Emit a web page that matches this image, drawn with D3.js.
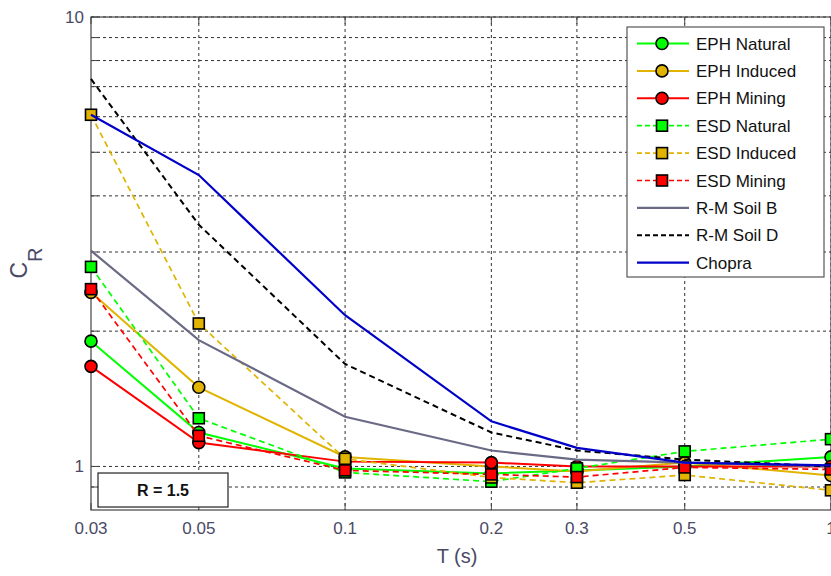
<!DOCTYPE html>
<html>
<head>
<meta charset="utf-8">
<script src="https://cdn.jsdelivr.net/npm/d3@7"></script>
<style>
  body { margin: 0; background: #fff; }
  text { font-family: "Liberation Sans", Arial, sans-serif; }
</style>
</head>
<body>
<div id="chart"></div>
<script>
// periods (s)
const periods = [0.03, 0.05, 0.1, 0.2, 0.3, 0.5, 1];
const xTicks = [0.03, 0.05, 0.1, 0.2, 0.3, 0.5, 1];
const yGrid = [0.9, 1, 2, 3, 4, 5, 6, 7, 8, 9, 10];
const yLabels = [1, 10];

// C_R values
const ephNatural = [1.90, 1.19, 0.99, 0.965, 0.98, 1.00, 1.05];
const ephInduced = [2.44, 1.50, 1.05, 1.00, 0.975, 1.02, 0.955];
const ephMining  = [1.67, 1.13, 1.025, 1.02, 1.00, 1.00, 1.00];
const esdNatural = [2.78, 1.28, 0.97, 0.925, 0.99, 1.08, 1.15];
const esdInduced = [6.06, 2.08, 1.04, 0.945, 0.92, 0.957, 0.885];
const esdMining  = [2.48, 1.17, 0.98, 0.96, 0.947, 0.995, 0.985];
const rmSoilB    = [3.02, 1.91, 1.29, 1.085, 1.036, 1.02, 1.00];
const rmSoilD    = [7.28, 3.45, 1.69, 1.19, 1.085, 1.036, 1.00];
const chopra     = [6.06, 4.45, 2.17, 1.26, 1.10, 1.02, 1.005];

const green = "#00ff00", gold = "#e0b400", red = "#ff0000";

const series = [
  {name: "EPH Natural", values: ephNatural, color: green, dash: null, marker: "circle", w: 2},
  {name: "EPH Induced", values: ephInduced, color: gold, dash: null, marker: "circle", w: 2},
  {name: "EPH Mining", values: ephMining, color: red, dash: null, marker: "circle", w: 2},
  {name: "ESD Natural", values: esdNatural, color: green, dash: "6,4", marker: "square", w: 1.7},
  {name: "ESD Induced", values: esdInduced, color: gold, dash: "6,4", marker: "square", w: 1.7},
  {name: "ESD Mining", values: esdMining, color: red, dash: "6,4", marker: "square", w: 1.7},
  {name: "R-M Soil B", values: rmSoilB, color: "#6a6a86", dash: null, marker: null, w: 2.2},
  {name: "R-M Soil D", values: rmSoilD, color: "#000000", dash: "6,4", marker: null, w: 2},
  {name: "Chopra", values: chopra, color: "#0000c8", dash: null, marker: null, w: 2.2}
];

const W = 831, H = 576;
const margin = {top: 17, right: 0, bottom: 66, left: 91};
const width = W - margin.left - margin.right;
const height = H - margin.top - margin.bottom;

const svg = d3.select("#chart").append("svg")
    .attr("width", W)
    .attr("height", H);

const g = svg.append("g")
    .attr("transform", `translate(${margin.left},${margin.top})`);

const x = d3.scaleLog().domain([0.03, 1]).range([0, width]);
const y = d3.scaleLog().domain([0.8, 10]).range([height, 0]);

// grid
g.append("g").selectAll("line")
    .data(yGrid)
    .join("line")
    .attr("x1", 0).attr("x2", width)
    .attr("y1", d => y(d)).attr("y2", d => y(d))
    .attr("stroke", "#333").attr("stroke-width", 1)
    .attr("stroke-dasharray", "3,3");

g.append("g").selectAll("line")
    .data(xTicks.slice(1))
    .join("line")
    .attr("x1", d => x(d)).attr("x2", d => x(d))
    .attr("y1", 0).attr("y2", height)
    .attr("stroke", "#333").attr("stroke-width", 1)
    .attr("stroke-dasharray", "3,3");

// frame
g.append("rect")
    .attr("width", width).attr("height", height)
    .attr("fill", "none").attr("stroke", "#444").attr("stroke-width", 1.2);

// tick marks (inside)
g.append("g").selectAll("line")
    .data(yGrid)
    .join("line")
    .attr("x1", 0).attr("x2", 7)
    .attr("y1", d => y(d)).attr("y2", d => y(d))
    .attr("stroke", "#444");
g.append("g").selectAll("line")
    .data(xTicks)
    .join("line")
    .attr("x1", d => x(d)).attr("x2", d => x(d))
    .attr("y1", height).attr("y2", height - 7)
    .attr("stroke", "#444");
g.append("g").selectAll("line")
    .data(xTicks)
    .join("line")
    .attr("x1", d => x(d)).attr("x2", d => x(d))
    .attr("y1", 0).attr("y2", 7)
    .attr("stroke", "#444");

// tick labels
const labelColor = "#4a4a66";
g.append("g").selectAll("text")
    .data(xTicks)
    .join("text")
    .attr("x", d => x(d))
    .attr("y", height + 24)
    .attr("text-anchor", "middle")
    .attr("font-size", 17)
    .attr("fill", labelColor)
    .text(d => d3.format("")(d));
g.append("g").selectAll("text")
    .data(yLabels)
    .join("text")
    .attr("x", -7)
    .attr("y", d => y(d) + 6)
    .attr("text-anchor", "end")
    .attr("font-size", 17)
    .attr("fill", labelColor)
    .text(d => d);

// axis titles
svg.append("text")
    .attr("x", 457)
    .attr("y", 563)
    .attr("text-anchor", "middle")
    .attr("font-size", 20)
    .attr("fill", labelColor)
    .text("T (s)");
const yt = svg.append("text")
    .attr("transform", "translate(27,263) rotate(-90)")
    .attr("text-anchor", "middle")
    .attr("font-size", 23)
    .attr("fill", labelColor);
yt.append("tspan").text("C");
yt.append("tspan").attr("font-size", 20).attr("dy", 15).text("R");

// lines
const line = d3.line()
    .x((d, i) => x(periods[i]))
    .y(d => y(d));

const sg = g.selectAll("g.series")
    .data(series)
    .join("g")
    .attr("class", "series");

sg.append("path")
    .attr("d", d => line(d.values))
    .attr("fill", "none")
    .attr("stroke", d => d.color)
    .attr("stroke-width", d => d.w)
    .attr("stroke-dasharray", d => d.dash);

function drawMarker(sel, type, color) {
  if (type === "circle") {
    sel.append("circle").attr("r", 6)
      .attr("fill", color).attr("stroke", "#000").attr("stroke-width", 1.6);
  } else if (type === "square") {
    sel.append("rect").attr("x", -5.5).attr("y", -5.5).attr("width", 11).attr("height", 11)
      .attr("fill", color).attr("stroke", "#000").attr("stroke-width", 1.6);
  }
}

sg.each(function(s) {
  if (!s.marker) return;
  d3.select(this).selectAll("g.mk")
    .data(s.values)
    .join("g")
    .attr("class", "mk")
    .attr("transform", (d, i) => `translate(${x(periods[i])},${y(d)})`)
    .each(function() { drawMarker(d3.select(this), s.marker, s.color); });
});

// R = 1.5 box
const rb = g.append("g").attr("transform", `translate(7,${y(0.9) - 14})`);
rb.append("rect").attr("width", 130).attr("height", 34)
  .attr("fill", "#fff").attr("stroke", "#222").attr("stroke-width", 1.2);
rb.append("text").attr("x", 65).attr("y", 23)
  .attr("text-anchor", "middle").attr("font-size", 16).attr("font-weight", "bold")
  .attr("fill", "#111").text("R = 1.5");

// legend
const lg = svg.append("g").attr("transform", "translate(627,27)");
lg.append("rect").attr("width", 197).attr("height", 250)
  .attr("fill", "#fff").attr("stroke", "#555").attr("stroke-width", 1.2);
const items = lg.selectAll("g.item")
    .data(series)
    .join("g")
    .attr("class", "item")
    .attr("transform", (d, i) => `translate(0,${16.5 + i * 27.4})`);
items.append("line")
    .attr("x1", 10).attr("x2", 62)
    .attr("stroke", d => d.color)
    .attr("stroke-width", d => d.w)
    .attr("stroke-dasharray", d => d.dash ? "5,3" : null);
items.each(function(s) {
  const m = d3.select(this).append("g").attr("transform", "translate(35,0)");
  drawMarker(m, s.marker, s.color);
});
items.append("text")
    .attr("x", 69).attr("y", 6)
    .attr("font-size", 17)
    .attr("fill", "#111")
    .text(d => d.name);
</script>
</body>
</html>
